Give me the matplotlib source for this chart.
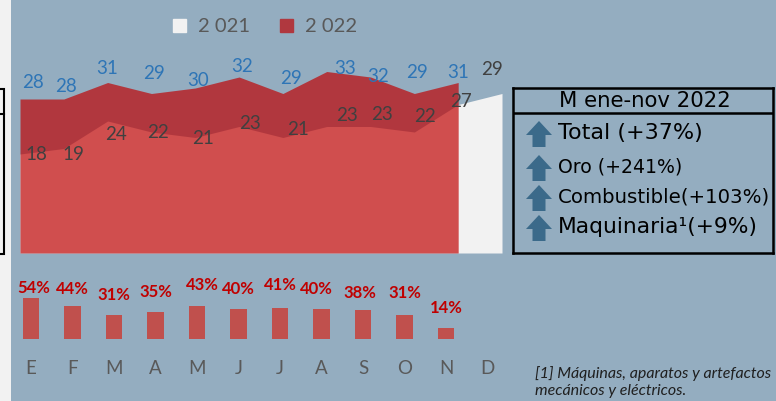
import matplotlib.pyplot as plt
import matplotlib.patches as mpatches
from matplotlib.lines import Line2D

# data
meses = ["E", "F", "M", "A", "M", "J", "J", "A", "S", "O", "N", "D"]
v2021 = [18, 19, 24, 22, 21, 23, 21, 23, 23, 22, 27, 29]
v2022 = [28, 28, 31, 29, 30, 32, 29, 33, 32, 29, 31]
var_pct = [54, 44, 31, 35, 43, 40, 41, 40, 38, 31, 14]
caja_titulo = "M ene-nov 2022"
caja_filas = ["Total (+37%)", "Oro (+241%)", "Combustible(+103%)", "Maquinaria\u00b9(+9%)"]
nota = "[1] Máquinas, aparatos y artefactos\nmecánicos y eléctricos."

# label nudges in pixels (dx, dy up), as placed by hand in the original
off21 = [(16, -1), (10, -6), (8, -14), (7, -1), (8, -1), (11, 3), (15, 8), (20, 11),
         (11, 12), (11, 15), (3, 3), (-10, 24)]
off22 = [(13, 16), (2, 12), (0, 14), (3, 20), (3, 8), (3, 11), (8, 15), (18, 3),
         (8, 0), (3, 21), (0, 10)]
offbar = [(3, 10), (0, 17), (0, 20), (0, 20), (5, 21), (0, 20), (0, 23), (-5, 20),
          (-3, 17), (0, 22), (0, 20)]
caja_tam = [16, 13.6, 14.2, 15.7]

W, H = 776, 401
bg = "#94ADC0"
font = "Lato"

fig = plt.figure(figsize=(W / 100, H / 100), dpi=100)
fig.patch.set_facecolor(bg)


def px_axes(x0, y0, x1, y1):
    # axes from pixel box (top-left origin)
    return fig.add_axes([x0 / W, 1 - y1 / H, (x1 - x0) / W, (y1 - y0) / H])


# light strip on the left + partial box
fig.patches.append(mpatches.Rectangle((0, 0), 11 / W, 1, transform=fig.transFigure,
                                      facecolor="#F2F2F2", edgecolor="none", zorder=0))
fig.patches.append(mpatches.Rectangle((-20 / W, 1 - 254 / H), 24 / W, 165 / H,
                                      transform=fig.transFigure, facecolor="none",
                                      edgecolor="black", lw=1.5, zorder=1))
fig.lines.append(Line2D([0, 4 / W], [1 - 114 / H, 1 - 114 / H], transform=fig.transFigure,
                        color="black", lw=1.5))

# area chart
ax = px_axes(20, 0, 502, 253)
ax.set_xlim(0, 11)
ax.set_ylim(0, 253 / 5.5)
ax.axis("off")
x21 = list(range(len(v2021)))
x22 = list(range(len(v2022)))
ax.fill_between(x21, 0, v2021, color="#F2F2F2", lw=0)
ax.fill_between(x22, 0, v2022, color="#C00000", alpha=0.68, lw=0)
for i, v in enumerate(v2022):
    ax.annotate(str(v), (i, v), xytext=off22[i], textcoords="offset pixels",
                ha="center", va="center", fontsize=13.5, color="#2E75B6", family=font,
                annotation_clip=False)
for i, v in enumerate(v2021):
    ax.annotate(str(v), (i, v), xytext=off21[i], textcoords="offset pixels",
                ha="center", va="center", fontsize=13.5, color="#404040", family=font,
                annotation_clip=False)

# legend
h = [mpatches.Patch(color="#F2F2F2"), mpatches.Patch(color="#B0383F")]
fig.legend(h, ["2 021", "2 022"], loc="center", bbox_to_anchor=(265 / W, 1 - 27 / H),
           ncol=2, frameon=False, prop={"family": font, "size": 14.5}, labelcolor="#595959",
           handlelength=0.65, handleheight=0.65, columnspacing=1.5, handletextpad=0.6)

# growth bars
bx = px_axes(31 - 20.75, 293, 31 + 41.5 * 11.5, 339)
bx.set_xlim(-0.5, 11.5)
bx.set_ylim(0, 46 / 0.76)
bx.set_facecolor("none")
for s in bx.spines.values():
    s.set_visible(False)
bx.bar(range(len(var_pct)), var_pct, width=0.39, color="#C0504D")
for i, v in enumerate(var_pct):
    bx.annotate(f"{v}%", (i, v), xytext=offbar[i], textcoords="offset pixels",
                ha="center", va="center", fontsize=12, fontweight="bold",
                color="#C00000", family=font, annotation_clip=False)
bx.set_yticks([])
bx.set_xticks(range(len(meses)))
bx.set_xticklabels(meses, fontsize=13.5, color="#595959", family=font)
bx.tick_params(axis="x", length=0, pad=15)

# summary box
cx = px_axes(513, 88, 773, 253)
cx.set_xlim(0, 260)
cx.set_ylim(165, 0)
cx.set_facecolor("none")
cx.set_xticks([])
cx.set_yticks([])
for s in cx.spines.values():
    s.set_linewidth(1.8)
cx.axhline(25, color="black", lw=1.8)
cx.text(132, 13, caja_titulo, ha="center", va="center", fontsize=15.3,
        family="DejaVu Sans", color="black")
filas_y = [45, 79, 109, 139]
for yy, t, fs in zip(filas_y, caja_filas, caja_tam):
    cx.add_patch(mpatches.Polygon([(13, yy + 2), (26, yy - 12), (39, yy + 2), (32.5, yy + 2),
                                   (32.5, yy + 14), (19.5, yy + 14), (19.5, yy + 2)],
                                  closed=True, facecolor="#3B6A8A", edgecolor="none"))
    cx.text(45, yy, t, ha="left", va="center", fontsize=fs, family="DejaVu Sans",
            color="black")

# footnote
fig.text(535 / W, 1 - 382 / H, nota, ha="left", va="center", fontsize=11.5,
         style="italic", family=font, color="#1F1F1F", linespacing=1.2)

fig.savefig("out.png", dpi=100, facecolor=bg)
